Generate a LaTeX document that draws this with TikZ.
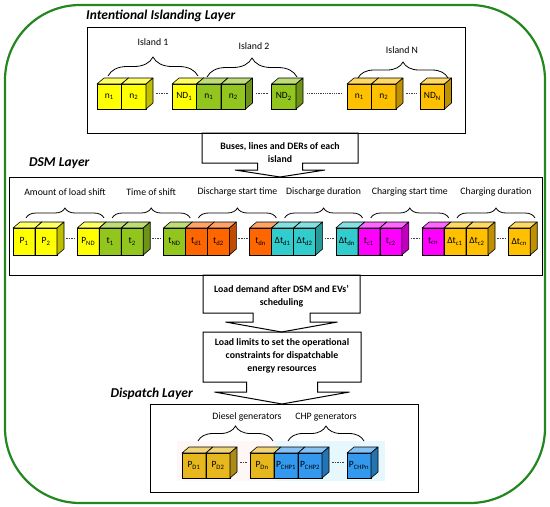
\documentclass[tikz,border=0pt]{standalone}
\usepackage{fontspec}
\setmainfont{Carlito}
\usetikzlibrary{calc,decorations.pathreplacing}

\definecolor{framegreen}{RGB}{34,136,30}
\definecolor{cyellow}{RGB}{255,255,0}
\definecolor{cgreen}{RGB}{146,198,30}
\definecolor{corange}{RGB}{255,102,0}
\definecolor{cteal}{RGB}{51,204,204}
\definecolor{cmagenta}{RGB}{255,0,255}
\definecolor{camber}{RGB}{255,192,0}
\definecolor{cgold}{RGB}{230,184,30}
\definecolor{cblue}{RGB}{51,153,238}

\tikzset{
  cubeface/.style={draw, line width=0.6pt, rectangle, inner sep=0pt, outer sep=0pt,
    anchor=north west, minimum height=25pt, font=\fontsize{9.5}{11}\selectfont},
  cubeedge/.style={line width=0.6pt, line join=round},
  gapdash/.style={line width=0.8pt, dash pattern=on 1.6pt off 1pt, black!75},
  grpbrace/.style={decorate, line width=0.8pt, decoration={brace, amplitude=#1}},
  grplabel/.style={font=\fontsize{9.8}{12}\selectfont, inner sep=0pt},
  layertitle/.style={font=\fontsize{13.5}{16}\selectfont\bfseries\itshape, inner sep=0pt},
  layerbox/.style={draw, line width=1pt},
  calloutline/.style={draw, line width=1pt, line join=miter},
  callouttext/.style={font=\fontsize{9.8}{13}\selectfont\bfseries, align=center, inner sep=0pt},
}

% one box of a chromosome: front face (named node), top and side faces
\newcommand{\drawcube}[5]{%
  \node[cubeface, fill=#4, minimum width=#3] (#1) at (#2) {#5};
  \filldraw[cubeedge, fill=#4!60!white] (#1.north west) -- ++(7,-6) -- ($(#1.north east)+(7,-6)$) -- (#1.north east) -- cycle;
  \filldraw[cubeedge, fill=#4!75!black] (#1.north east) -- ++(7,-6) -- ($(#1.south east)+(7,-6)$) -- (#1.south east) -- cycle;
}
% text box with a flat arrow below it: cx, top, bottom, half width, shaft half, head half, head base, tip
\newcommand{\calloutshape}[8]{%
  \draw[calloutline] (#1-#4,#2) -- (#1+#4,#2) -- (#1+#4,#3) -- (#1+#5,#3) -- (#1+#5,#7) -- (#1+#6,#7)
    -- (#1,#8) -- (#1-#6,#7) -- (#1-#5,#7) -- (#1-#5,#3) -- (#1-#4,#3) -- cycle;
}

\begin{document}
\begin{tikzpicture}[x=1pt, y=-1pt]
  \useasboundingbox (0,0) rectangle (550,507);
  \draw[framegreen, line width=2.2pt, rounded corners=75pt] (5,5) rectangle (545,503);

  % Intentional islanding layer
  \node[layertitle, anchor=west] (isltitle) at (86,16) {Intentional Islanding Layer};
  \draw[layerbox] (87,27) rectangle (465,133);
  \foreach \xo/\off/\col/\lc/\gi in {97/75/cyellow/ND\textsubscript{1}/1, 196.5/75/cgreen/ND\textsubscript{2}/2, 347/73/camber/ND\textsubscript{N}/N}
  {
    \drawcube{isl\gi a}{\xo,84}{24.5pt}{\col}{n\textsubscript{1}}
    \drawcube{isl\gi b}{\xo+24.5,84}{24.5pt}{\col}{n\textsubscript{2}}
    \drawcube{isl\gi c}{\xo+\off,84}{24.5pt}{\col}{\lc}
    \draw[gapdash] ($(isl\gi b.east)+(10,-3)$) -- ($(isl\gi c.west)+(-3,-3)$);
  }
  \draw[gapdash, dash pattern=on 1pt off 0.8pt] ($(isl2c.east)+(11,-3)$) -- ($(islNa.west)+(-5,-3)$);
  \draw[grpbrace=19pt] (108,76) -- (198,76);
  \node[grplabel] (isl1lab) at (153,42) {Island 1};
  \draw[grpbrace=19pt] (207,77) -- (297,77);
  \node[grplabel] (isl2lab) at (254,46) {Island 2};
  \draw[grpbrace=16pt] (358,78) -- (448,78);
  \node[grplabel] (islNlab) at (402,50) {Island N};

  \calloutshape{280}{133}{163}{78}{22.5}{45}{170}{177}
  \node[callouttext] (buses) at (280,153) {Buses, lines and DERs of each\\island};

  % DSM layer
  \node[layertitle, anchor=west] (dsmtitle) at (29,163) {DSM Layer};
  \draw[layerbox] (9,177) rectangle (542,275);
  \begin{scope}[cubeface/.append style={minimum height=27pt}]
  \foreach \gi/\col/\la/\lb/\lc/\grp in {
    0/cyellow/P\textsubscript{1}/P\textsubscript{2}/P\textsubscript{ND}/Amount of load shift,
    1/cgreen/t\textsubscript{1}/t\textsubscript{2}/t\textsubscript{ND}/Time of shift,
    2/corange/t\textsubscript{d1}/t\textsubscript{d2}/t\textsubscript{dn}/Discharge start time,
    3/cteal/Δt\textsubscript{d1}/Δt\textsubscript{d2}/Δt\textsubscript{dn}/Discharge duration,
    4/cmagenta/t\textsubscript{c1}/t\textsubscript{c2}/t\textsubscript{cn}/Charging start time,
    5/camber/Δt\textsubscript{c1}/Δt\textsubscript{c2}/Δt\textsubscript{cn}/Charging duration}
  {
    \pgfmathsetmacro{\xo}{13+86.2*\gi}
    \drawcube{dsm\gi a}{\xo,228}{22pt}{\col}{\la}
    \drawcube{dsm\gi b}{\xo+22,228}{22pt}{\col}{\lb}
    \drawcube{dsm\gi c}{\xo+64.2,228}{22pt}{\col}{\lc}
    \draw[gapdash] ($(dsm\gi b.east)+(9,-3)$) -- ($(dsm\gi c.west)+(-2,-3)$);
    \draw[grpbrace=10pt] (\xo+13,218) -- (\xo+91,218);
    \node[grplabel] (dsmlab\gi) at (\xo+52,192) {\grp};
  }
  \end{scope}

  \calloutshape{281.5}{275}{313}{78.5}{28.5}{56}{322}{332}
  \node[callouttext] (demand) at (281.5,296) {Load demand after DSM and EVs’\\scheduling};
  \calloutshape{282}{332}{382}{79}{35.5}{67.5}{392}{404}
  \node[callouttext] (limits) at (282,356) {Load limits to set the operational\\constraints for dispatchable\\energy resources};

  % Dispatch layer
  \node[layertitle, anchor=east] (disptitle) at (193,394) {Dispatch Layer};
  \draw[layerbox] (150,404) rectangle (418,492);
  \fill[pink!14] (177,441) rectangle (275,481);
  \fill[cyan!10] (275,441) rectangle (385,481);
  \drawcube{pd1}{182,453}{24pt}{cgold}{P\textsubscript{D1}}
  \drawcube{pd2}{206,453}{24pt}{cgold}{P\textsubscript{D2}}
  \drawcube{pdn}{250,453}{24pt}{cgold}{P\textsubscript{Dn}}
  \drawcube{pchp1}{274,453}{24pt}{cblue}{P\textsubscript{CHP1}}
  \drawcube{pchp2}{298,453}{24pt}{cblue}{P\textsubscript{CHP2}}
  \drawcube{pchpn}{347,453}{24pt}{cblue}{P\textsubscript{CHPn}}
  \draw[gapdash] ($(pd2.east)+(10,-3)$) -- ($(pdn.west)+(-3,-3)$);
  \draw[gapdash] ($(pchp2.east)+(10,-3)$) -- ($(pchpn.west)+(-3,-3)$);
  \draw[grpbrace=15pt] (198,441) -- (273,441);
  \node[grplabel] (diesellab) at (247,417) {Diesel generators};
  \draw[grpbrace=15pt] (288,441) -- (364,441);
  \node[grplabel] (chplab) at (326,417) {CHP generators};
\end{tikzpicture}
\end{document}
